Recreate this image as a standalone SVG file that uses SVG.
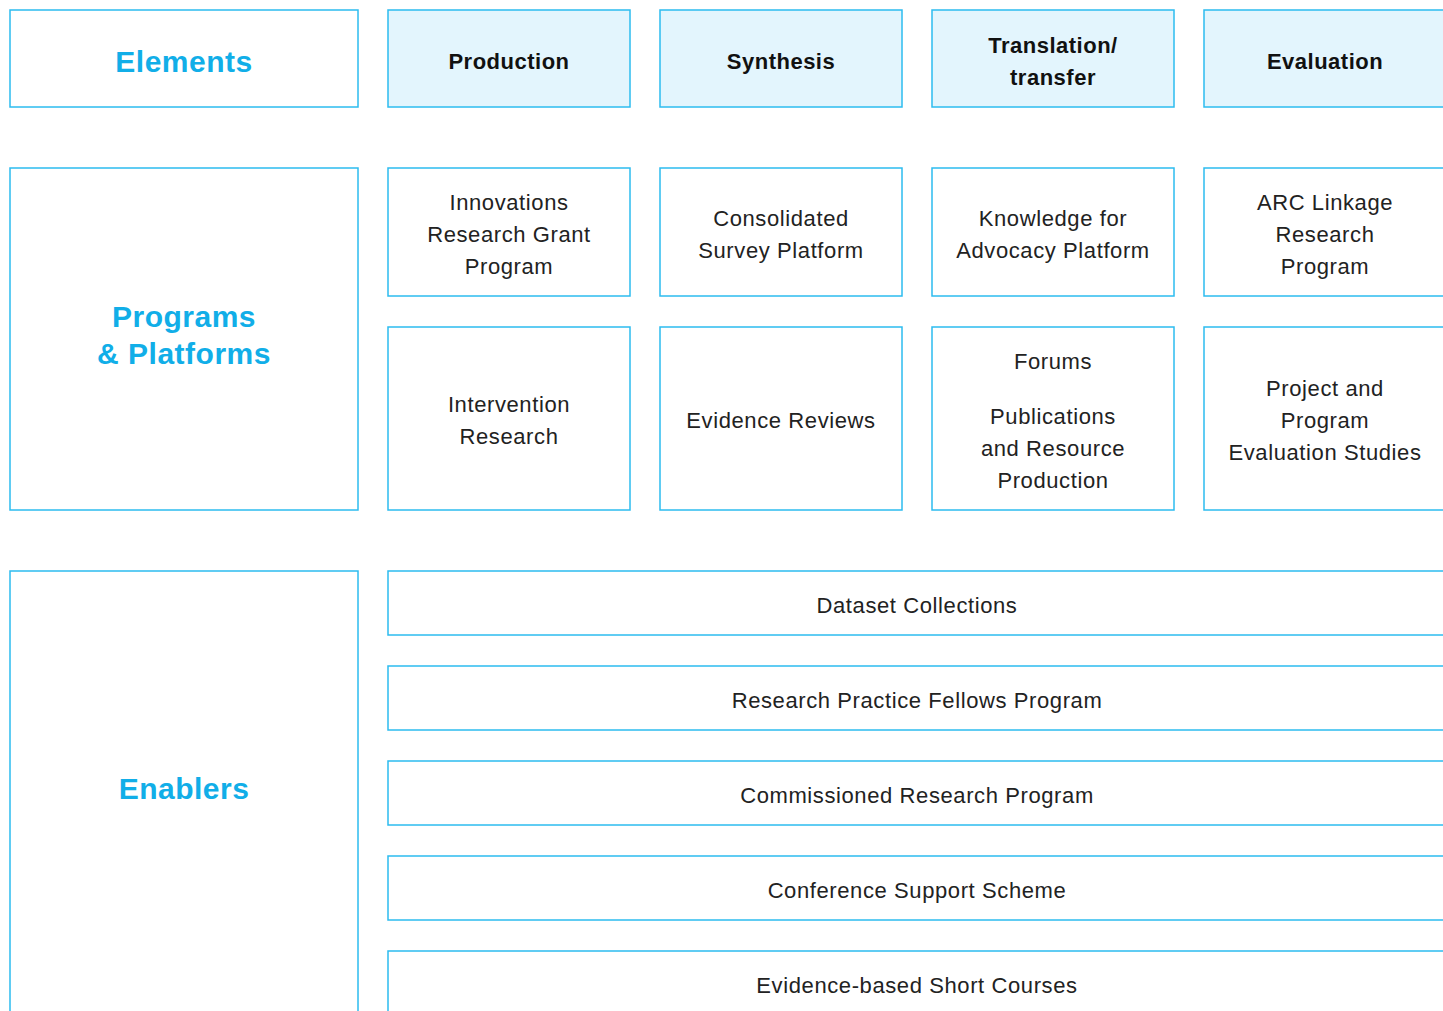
<svg xmlns="http://www.w3.org/2000/svg" width="1443" height="1011" viewBox="0 0 1443 1011">
<style>
rect{fill:#fff;stroke:#2cbcef;stroke-width:1.5}
rect.h{fill:#e3f5fd}
text{font-family:"Liberation Sans","DejaVu Sans",sans-serif;text-anchor:middle}
.t{fill:#11aee8;font-size:30px;font-weight:bold;letter-spacing:0.5px}
.hd{fill:#111;font-size:22px;font-weight:bold;letter-spacing:0.5px}
.b{fill:#222;font-size:22px;letter-spacing:0.6px}
</style>
<rect width="1443" height="1011" style="fill:#fff;stroke:none"/>
<g id="elements"><rect x="10" y="10" width="348" height="97"/><text class="t" x="184" y="72">Elements</text></g>
<g id="production"><rect class="h" x="388" y="10" width="242" height="97"/><text class="hd" x="509" y="69">Production</text></g>
<g id="synthesis"><rect class="h" x="660" y="10" width="242" height="97"/><text class="hd" x="781" y="69">Synthesis</text></g>
<g id="translation"><rect class="h" x="932" y="10" width="242" height="97"/><text class="hd" x="1053" y="53">Translation/</text><text class="hd" x="1053" y="85">transfer</text></g>
<g id="evaluation"><rect class="h" x="1204" y="10" width="242" height="97"/><text class="hd" x="1325" y="69">Evaluation</text></g>

<g id="programs"><rect x="10" y="168" width="348" height="342"/><text class="t" x="184" y="327">Programs</text><text class="t" x="184" y="364">&amp; Platforms</text></g>
<g id="innovations"><rect x="388" y="168" width="242" height="128"/><text class="b" x="509" y="210">Innovations</text><text class="b" x="509" y="242">Research Grant</text><text class="b" x="509" y="274">Program</text></g>
<g id="consolidated"><rect x="660" y="168" width="242" height="128"/><text class="b" x="781" y="226">Consolidated</text><text class="b" x="781" y="258">Survey Platform</text></g>
<g id="knowledge"><rect x="932" y="168" width="242" height="128"/><text class="b" x="1053" y="226">Knowledge for</text><text class="b" x="1053" y="258">Advocacy Platform</text></g>
<g id="arc"><rect x="1204" y="168" width="242" height="128"/><text class="b" x="1325" y="210">ARC Linkage</text><text class="b" x="1325" y="242">Research</text><text class="b" x="1325" y="274">Program</text></g>

<g id="intervention"><rect x="388" y="327" width="242" height="183"/><text class="b" x="509" y="412">Intervention</text><text class="b" x="509" y="444">Research</text></g>
<g id="evidence"><rect x="660" y="327" width="242" height="183"/><text class="b" x="781" y="428">Evidence Reviews</text></g>
<g id="forums"><rect x="932" y="327" width="242" height="183"/><text class="b" x="1053" y="369">Forums</text><text class="b" x="1053" y="424">Publications</text><text class="b" x="1053" y="456">and Resource</text><text class="b" x="1053" y="488">Production</text></g>
<g id="project"><rect x="1204" y="327" width="242" height="183"/><text class="b" x="1325" y="396">Project and</text><text class="b" x="1325" y="428">Program</text><text class="b" x="1325" y="460">Evaluation Studies</text></g>

<g id="enablers"><rect x="10" y="571" width="348" height="460"/><text class="t" x="184" y="799">Enablers</text></g>
<g id="dataset"><rect x="388" y="571" width="1058" height="64"/><text class="b" x="917" y="613">Dataset Collections</text></g>
<g id="fellows"><rect x="388" y="666" width="1058" height="64"/><text class="b" x="917" y="708">Research Practice Fellows Program</text></g>
<g id="commissioned"><rect x="388" y="761" width="1058" height="64"/><text class="b" x="917" y="803">Commissioned Research Program</text></g>
<g id="conference"><rect x="388" y="856" width="1058" height="64"/><text class="b" x="917" y="898">Conference Support Scheme</text></g>
<g id="courses"><rect x="388" y="951" width="1058" height="80"/><text class="b" x="917" y="993">Evidence-based Short Courses</text></g>
<g id="connectors"></g>
</svg>
